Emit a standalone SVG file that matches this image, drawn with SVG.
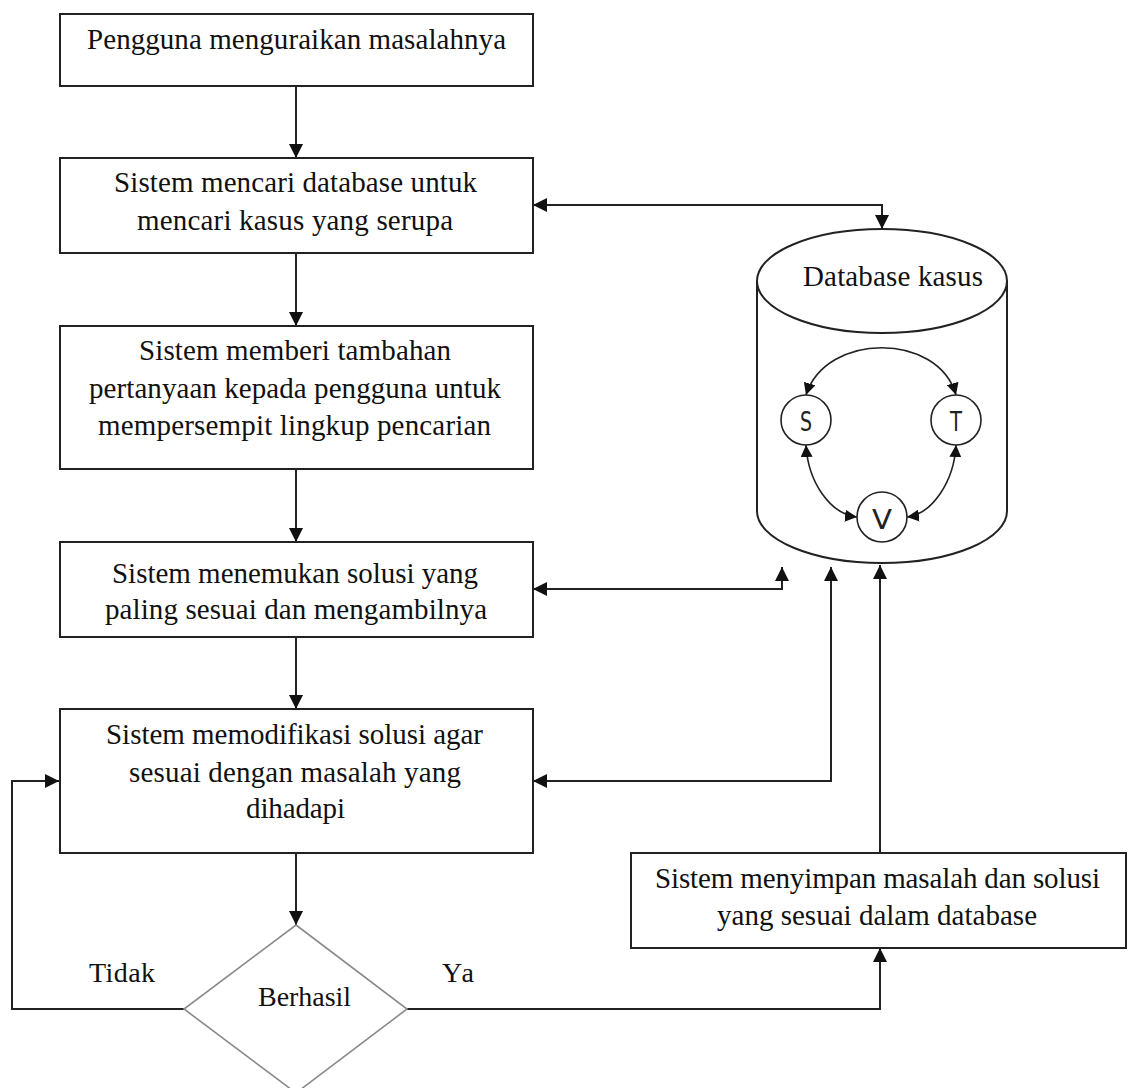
<svg xmlns="http://www.w3.org/2000/svg" width="1129" height="1088" viewBox="0 0 1129 1088">
<style>
.box{fill:#fff;stroke:#222;stroke-width:2}
.t{font-family:"Liberation Serif","Times New Roman",serif;font-size:29px;fill:#111;text-anchor:middle}
.lbl{font-family:"Liberation Serif","Times New Roman",serif;font-size:28px;fill:#111;text-anchor:middle}
.c{fill:none;stroke:#222;stroke-width:2}
.cs{fill:none;stroke:#222;stroke-width:1.6}
.node{fill:#fff;stroke:#222;stroke-width:1.6}
.sv{font-family:"DejaVu Sans","Liberation Sans",sans-serif;font-size:27px;fill:#222;text-anchor:middle}
</style>
<defs>
<marker id="ah" markerUnits="userSpaceOnUse" markerWidth="14" markerHeight="14" refX="14" refY="7" orient="auto-start-reverse" viewBox="0 0 14 14">
<path d="M0,0 L14,7 L0,14 z" fill="#111"/>
</marker>
<marker id="sh" markerUnits="userSpaceOnUse" markerWidth="12" markerHeight="12" refX="12" refY="6" orient="auto-start-reverse" viewBox="0 0 12 12">
<path d="M0,0 L12,6 L0,12 z" fill="#111"/>
</marker>
</defs>

<g id="connectors">
<line class="c" x1="296" y1="86" x2="296" y2="158" marker-end="url(#ah)"/>
<line class="c" x1="296" y1="253" x2="296" y2="326" marker-end="url(#ah)"/>
<line class="c" x1="296" y1="469" x2="296" y2="542" marker-end="url(#ah)"/>
<line class="c" x1="296" y1="637" x2="296" y2="709" marker-end="url(#ah)"/>
<line class="c" x1="296" y1="853" x2="296" y2="925" marker-end="url(#ah)"/>
<polyline class="c" points="533,205 882,205 882,229" marker-start="url(#ah)" marker-end="url(#ah)"/>
<polyline class="c" points="533,589 782,589 782,567" marker-start="url(#ah)" marker-end="url(#ah)"/>
<polyline class="c" points="533,781 831,781 831,567" marker-start="url(#ah)" marker-end="url(#ah)"/>
<line class="c" x1="880" y1="853" x2="880" y2="565" marker-end="url(#ah)"/>
<polyline class="c" points="184,1009 12,1009 12,781 59,781" marker-end="url(#ah)"/>
<polyline class="c" points="407,1009 880,1009 880,948" marker-end="url(#ah)"/>
</g>

<g id="n1">
<rect class="box" x="60" y="14" width="473" height="72"/>
<text class="t" x="296.5" y="49" textLength="419">Pengguna menguraikan masalahnya</text>
</g>
<g id="n2">
<rect class="box" x="60" y="158" width="473" height="95"/>
<text class="t" x="295.5" y="192" textLength="363">Sistem mencari database untuk</text>
<text class="t" x="295" y="230" textLength="316">mencari kasus yang serupa</text>
</g>
<g id="n3">
<rect class="box" x="60" y="326" width="473" height="143"/>
<text class="t" x="295" y="360" textLength="312">Sistem memberi tambahan</text>
<text class="t" x="295" y="398" textLength="412">pertanyaan kepada pengguna untuk</text>
<text class="t" x="294.5" y="435" textLength="393">mempersempit lingkup pencarian</text>
</g>
<g id="n4">
<rect class="box" x="60" y="542" width="473" height="95"/>
<text class="t" x="295" y="583" textLength="366">Sistem menemukan solusi yang</text>
<text class="t" x="296" y="619" textLength="382">paling sesuai dan mengambilnya</text>
</g>
<g id="n5">
<rect class="box" x="60" y="709" width="473" height="144"/>
<text class="t" x="294.5" y="744" textLength="377">Sistem memodifikasi solusi agar</text>
<text class="t" x="295" y="782" textLength="332">sesuai dengan masalah yang</text>
<text class="t" x="295.5" y="818" textLength="99">dihadapi</text>
</g>
<g id="decision">
<polygon points="296,925 407,1009 296,1093 184,1009" fill="#fff" stroke="#8a8a8a" stroke-width="1.6"/>
<text class="lbl" x="304.5" y="1006" textLength="93">Berhasil</text>
</g>
<g id="labels">
<text class="lbl" x="122" y="982" textLength="66">Tidak</text>
<text class="lbl" x="458" y="982" textLength="32">Ya</text>
</g>
<g id="n6">
<rect class="box" x="631" y="853" width="495" height="95"/>
<text class="t" x="877.5" y="888" textLength="445">Sistem menyimpan masalah dan solusi</text>
<text class="t" x="877" y="925" textLength="320">yang sesuai dalam database</text>
</g>
<g id="database">
<path class="c" d="M757,281 L757,511 A125,52 0 0 0 1007,511 L1007,281" fill="#fff"/>
<ellipse class="c" cx="882" cy="281" rx="125" ry="52" fill="#fff"/>
<text class="t" x="893" y="286" textLength="180">Database kasus</text>
<path class="cs" d="M806,395 C826,332 938,332 956,395" marker-start="url(#sh)" marker-end="url(#sh)"/>
<path class="cs" d="M806,445 C808,482 830,514 857,517" marker-start="url(#sh)" marker-end="url(#sh)"/>
<path class="cs" d="M956,445 C954,482 932,514 907,517" marker-start="url(#sh)" marker-end="url(#sh)"/>
<g id="nodeS"><circle class="node" cx="806" cy="420" r="25"/><text class="sv" x="806" y="431" textLength="12" lengthAdjust="spacingAndGlyphs">S</text></g>
<g id="nodeT"><circle class="node" cx="956" cy="420" r="25"/><text class="sv" x="956" y="431" textLength="12" lengthAdjust="spacingAndGlyphs">T</text></g>
<g id="nodeV"><circle class="node" cx="882" cy="517" r="25"/><text class="sv" x="882" y="529" textLength="20" lengthAdjust="spacingAndGlyphs">V</text></g>
</g>
</svg>
